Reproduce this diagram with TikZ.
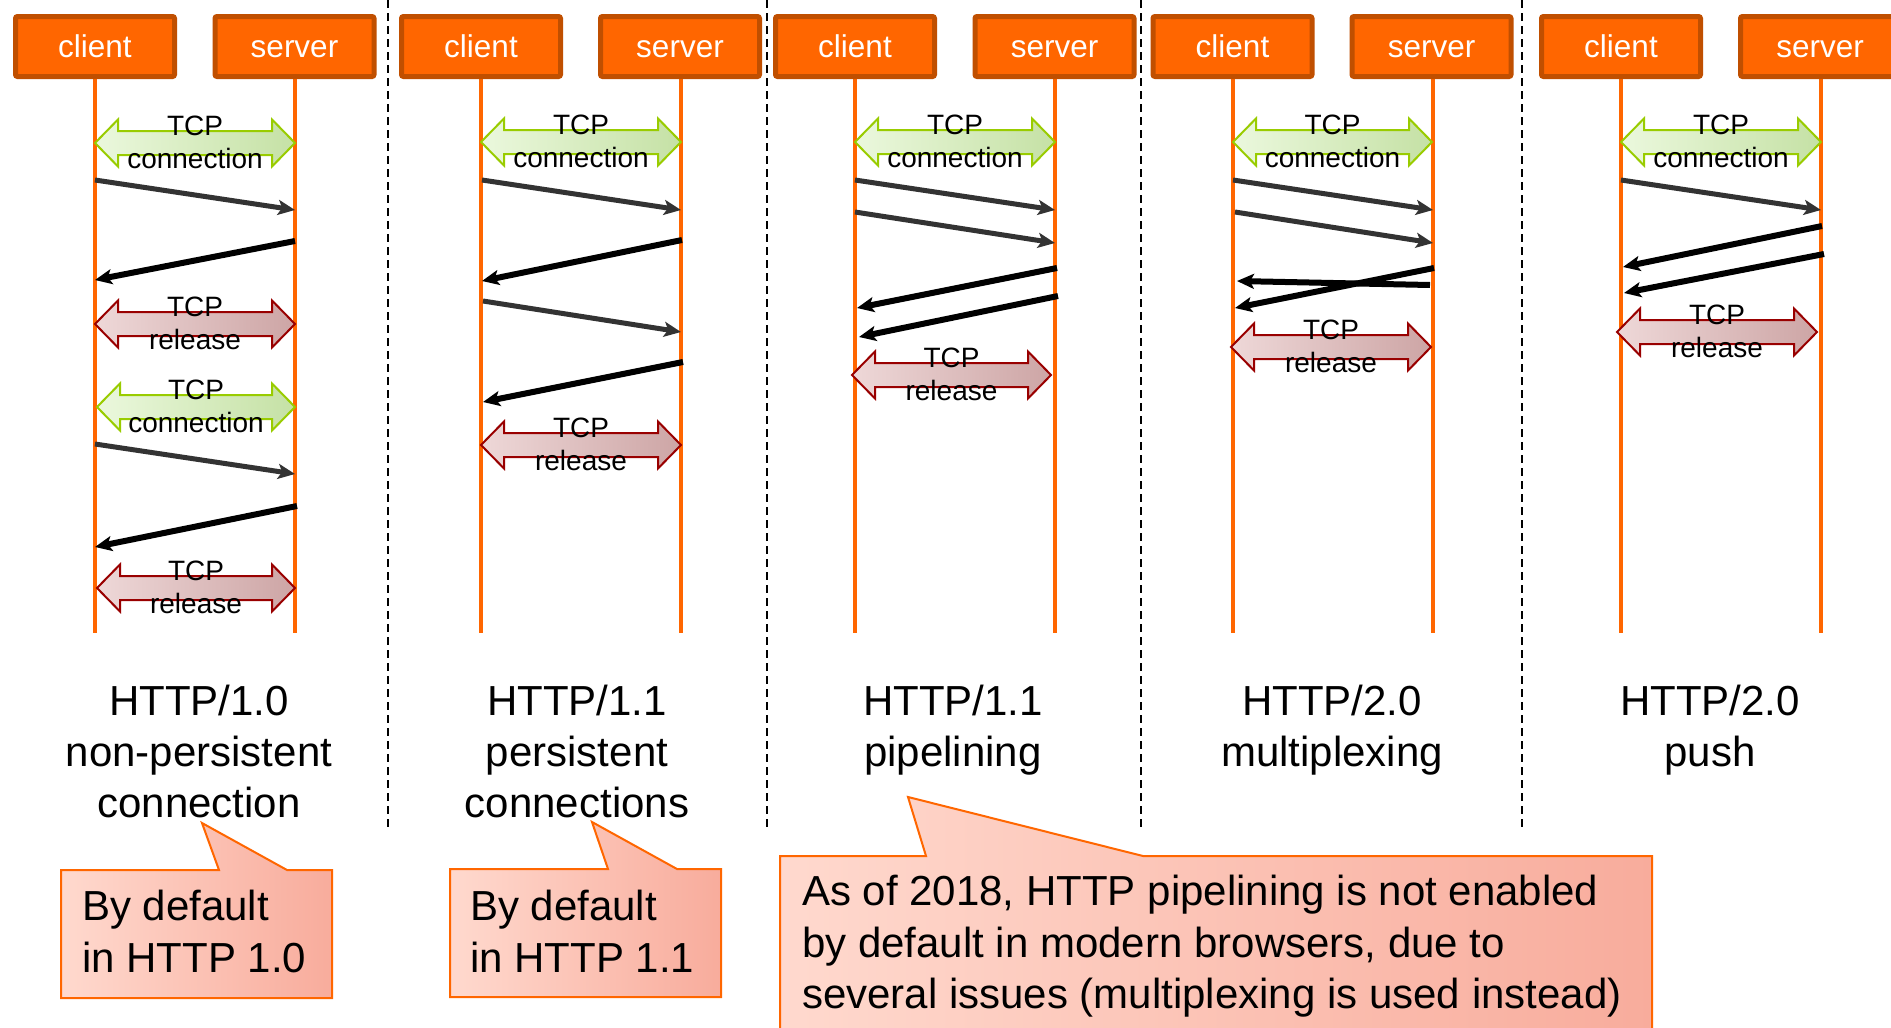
\documentclass[tikz,border=0pt]{standalone}
\usepackage{fontspec}
\setmainfont{Liberation Sans}
\usetikzlibrary{arrows.meta}
\definecolor{boxfill}{HTML}{FF6600}
\definecolor{boxline}{HTML}{C04F00}
\definecolor{lifec}{HTML}{FF6600}
\definecolor{grnL}{HTML}{EBF8DD}
\definecolor{grnR}{HTML}{C5E1A5}
\definecolor{grnB}{HTML}{99CC00}
\definecolor{redL}{HTML}{EED8D8}
\definecolor{redR}{HTML}{CDA5A5}
\definecolor{redB}{HTML}{990000}
\definecolor{calL}{HTML}{FFD9CE}
\definecolor{calR}{HTML}{F8AC9C}
\definecolor{calB}{HTML}{FF6600}
\definecolor{reqc}{HTML}{333333}
\tikzset{
 actor/.style={draw=boxline, line width=5pt, fill=boxfill, rounded corners=2pt, minimum width=159pt, minimum height=60pt, inner sep=0pt, text height=22pt, text depth=0pt, text=white, font=\fontsize{31.5}{38}\selectfont},
 life/.style={draw=lifec, line width=4.5pt},
 req/.style={draw=reqc, line width=5pt, -{Stealth[length=17pt,width=15pt,inset=4pt]}},
 resp/.style={draw=black, line width=6pt, -{Stealth[length=17pt,width=15pt,inset=4pt]}},
 conn/.style={draw=grnB, line width=2pt, left color=grnL, right color=grnR},
 rel/.style={draw=redB, line width=2pt, left color=redL, right color=redR},
 blabel/.style={anchor=base, inner sep=0pt, font=\fontsize{28}{33}\selectfont},
 title/.style={anchor=base, inner sep=0pt, font=\fontsize{42}{51}\selectfont},
 note/.style={anchor=base west, inner sep=0pt, font=\fontsize{42}{51}\selectfont},
 callout/.style={draw=calB, line width=2pt, left color=calL, right color=calR},
 sep/.style={draw=black, line width=1.5pt, dash pattern=on 8pt off 5pt},
}
% block arrow: name, style, x1, x2, y, second word
\newcommand\blockarr[6]{%
 \path[#2] (#3,#5) coordinate (#1w) -- ({#3+23},{#5-23.5}) -- ({#3+23},{#5-12}) -- ({#4-23},{#5-12}) -- ({#4-23},{#5-23.5}) -- (#4,#5) coordinate (#1e) -- ({#4-23},{#5+23.5}) -- ({#4-23},{#5+12}) -- ({#3+23},{#5+12}) -- ({#3+23},{#5+23.5}) -- cycle;
 \node[blabel] (#1a) at ({(#3+#4)/2},{#5-7.5}) {TCP};
 \node[blabel] (#1b) at ({(#3+#4)/2},{#5+25.5}) {#6};
}
% message: name, style, x1, y1, x2, y2
\newcommand\msgarr[6]{%
 \coordinate (#1s) at (#3,#4);
 \coordinate (#1e) at (#5,#6);
 \draw[#2] (#1s) -- (#1e);
}
% boxes: prefix, client x, server x
\newcommand\actors[3]{%
 \node[actor] (#1c) at (#2,46.5) {client};
 \node[actor] (#1s) at (#3,46.5) {server};
}
\newcommand\lifelines[3]{%
 \coordinate (#1cb) at (#2,633);
 \coordinate (#1sb) at (#3,633);
 \coordinate (#1ct) at (#2,76);
 \coordinate (#1st) at (#3,76);
 \draw[life] (#1ct) -- (#1cb);
 \draw[life] (#1st) -- (#1sb);
}
\begin{document}
\begin{tikzpicture}[x=1pt,y=-1pt]
\useasboundingbox (0,0) rectangle (1891,1028);
\clip (0,0) rectangle (1891,1028);
\fill[white] (0,0) rectangle (1891,1028);
% separators
\foreach \sx/\nm in {388/a,767/b,1141/c,1522/d}{
 \coordinate (sep\nm t) at (\sx,0);
 \coordinate (sep\nm b) at (\sx,830);
 \draw[sep] (sep\nm t) -- (sep\nm b);
}
% lifelines
\lifelines{pa}{95}{295}
\lifelines{pb}{481}{681}
\lifelines{pc}{855}{1055}
\lifelines{pd}{1233}{1433}
\lifelines{pe}{1621}{1821}
% panel 1
\blockarr{a1}{conn}{95}{295}{143}{connection}
\blockarr{a2}{rel}{95}{295}{324}{release}
\blockarr{a3}{conn}{97}{295}{407}{connection}
\blockarr{a4}{rel}{97}{295}{588}{release}
\msgarr{ma1}{req}{95}{180}{295}{210}
\msgarr{ma2}{resp}{295}{241}{95}{280}
\msgarr{ma3}{req}{95}{444}{295}{474}
\msgarr{ma4}{resp}{297}{506}{95}{547}
% panel 2
\blockarr{b1}{conn}{481}{681}{142}{connection}
\blockarr{b2}{rel}{481}{681}{445}{release}
\msgarr{mb1}{req}{482}{180}{681}{210}
\msgarr{mb2}{resp}{682}{240}{482}{281}
\msgarr{mb3}{req}{483}{301}{681}{332}
\msgarr{mb4}{resp}{683}{362}{483}{402}
% panel 3
\blockarr{c1}{conn}{855}{1055}{142}{connection}
\blockarr{c2}{rel}{852}{1051}{375}{release}
\msgarr{mc1}{req}{855}{180}{1055}{210}
\msgarr{mc2}{req}{855}{212}{1055}{243}
\msgarr{mc3}{resp}{1057}{268}{857}{308}
\msgarr{mc4}{resp}{1058}{296}{859}{337}
% panel 4
\blockarr{d1}{conn}{1233}{1432}{142}{connection}
\blockarr{d2}{rel}{1231}{1431}{347}{release}
\msgarr{md1}{req}{1233}{180}{1433}{210}
\msgarr{md2}{req}{1235}{212}{1433}{243}
\msgarr{md3}{resp}{1430}{285}{1237}{281}
\msgarr{md4}{resp}{1434}{268}{1235}{308}
% panel 5
\blockarr{e1}{conn}{1621}{1821}{142}{connection}
\blockarr{e2}{rel}{1617}{1817}{332}{release}
\msgarr{me1}{req}{1621}{180}{1821}{210}
\msgarr{me2}{resp}{1822}{226}{1623}{267}
\msgarr{me3}{resp}{1824}{254}{1624}{293}
% boxes
\actors{pa}{95}{294.5}
\actors{pb}{481}{680}
\actors{pc}{855}{1054.5}
\actors{pd}{1232.5}{1431.5}
\actors{pe}{1621}{1820}
% titles
\node[title] (ta1) at (199,715) {HTTP/1.0};
\node[title] (ta2) at (199,766) {non-persistent};
\node[title] (ta3) at (199,817) {connection};
\node[title] (tb1) at (577,715) {HTTP/1.1};
\node[title] (tb2) at (577,766) {persistent};
\node[title] (tb3) at (577,817) {connections};
\node[title] (tc1) at (953,715) {HTTP/1.1};
\node[title] (tc2) at (953,766) {pipelining};
\node[title] (td1) at (1332,715) {HTTP/2.0};
\node[title] (td2) at (1332,766) {multiplexing};
\node[title] (te1) at (1710,715) {HTTP/2.0};
\node[title] (te2) at (1710,766) {push};
% callouts
\path[callout] (61,870) -- (219,870) -- (202,823) -- (287,870) -- (332,870) -- (332,998) -- (61,998) -- cycle;
\node[note] (na1) at (82,920) {By default};
\node[note] (na2) at (82,972) {in HTTP 1.0};
\path[callout] (450,869) -- (608,869) -- (592,822) -- (677,869) -- (721,869) -- (721,997) -- (450,997) -- cycle;
\node[note] (nb1) at (470,920) {By default};
\node[note] (nb2) at (470,972) {in HTTP 1.1};
\path[callout] (780,856) -- (926,856) -- (908,797) -- (1143,856) -- (1652,856) -- (1652,1045) -- (780,1045) -- cycle;
\node[note] (nc1) at (802,905) {As of 2018, HTTP pipelining is not enabled};
\node[note] (nc2) at (802,957) {by default in modern browsers, due to};
\node[note] (nc3) at (802,1008) {several issues (multiplexing is used instead)};
\end{tikzpicture}
\end{document}
